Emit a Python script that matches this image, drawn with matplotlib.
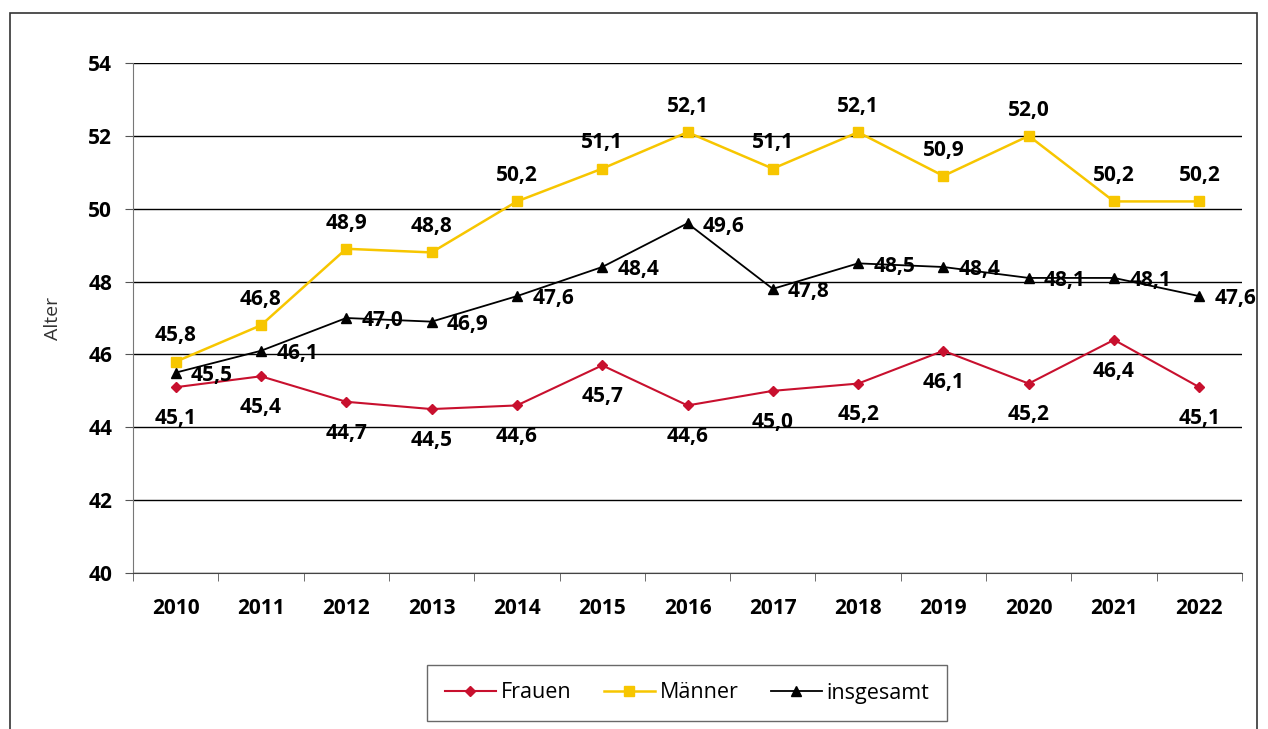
"""Durchschnittsalter nach Geschlecht 2010-2022 als Liniendiagramm."""

import matplotlib
matplotlib.use("Agg")
import matplotlib.pyplot as plt
from matplotlib.patches import Rectangle

plt.rcParams["font.family"] = ["Open Sans", "DejaVu Sans"]

years = ["2010", "2011", "2012", "2013", "2014", "2015", "2016",
         "2017", "2018", "2019", "2020", "2021", "2022"]
frauen = [45.1, 45.4, 44.7, 44.5, 44.6, 45.7, 44.6, 45.0, 45.2, 46.1, 45.2, 46.4, 45.1]
maenner = [45.8, 46.8, 48.9, 48.8, 50.2, 51.1, 52.1, 51.1, 52.1, 50.9, 52.0, 50.2, 50.2]
gesamt = [45.5, 46.1, 47.0, 46.9, 47.6, 48.4, 49.6, 47.8, 48.5, 48.4, 48.1, 48.1, 47.6]

RED = "#C8102E"
YELLOW = "#F7C600"
BLACK = "#000000"


def fmt(v):
    return f"{v:.1f}".replace(".", ",")


fig = plt.figure(figsize=(12.68, 7.29), dpi=100)
ax = fig.add_axes([133 / 1268, 156 / 729, 1109 / 1268, 510 / 729])

# outer frame of the original graphic
fig.patches.append(Rectangle((10 / 1268, -0.02), 1247 / 1268, (729 - 13) / 729 + 0.02,
                             transform=fig.transFigure, fill=False,
                             edgecolor="#333333", linewidth=1.2, clip_on=False))

x = list(range(len(years)))
ax.plot(x, frauen, color=RED, marker="D", markersize=5.5, linewidth=1.5, label="Frauen", zorder=3)
ax.plot(x, maenner, color=YELLOW, marker="s", markersize=7.5, linewidth=1.8, label="Männer", zorder=3)
ax.plot(x, gesamt, color=BLACK, marker="^", markersize=7, linewidth=1.3, label="insgesamt", zorder=4)

lab = dict(fontsize=15, fontweight="bold", color="black", zorder=5)
for i, v in enumerate(frauen):
    ax.annotate(fmt(v), (i, v), xytext=(0, -15), textcoords="offset points",
                ha="center", va="top", **lab)
for i, v in enumerate(maenner):
    ax.annotate(fmt(v), (i, v), xytext=(0, 11), textcoords="offset points",
                ha="center", va="bottom", **lab)
for i, v in enumerate(gesamt):
    ax.annotate(fmt(v), (i, v), xytext=(11, -2), textcoords="offset points",
                ha="left", va="center", **lab)

ax.set_xlim(-0.5, len(years) - 0.5)
ax.set_ylim(40, 54)
ax.set_yticks(range(40, 55, 2))
ax.set_xticks(x)
ax.set_xticklabels(years)
ax.set_xticks([i - 0.5 for i in range(len(years) + 1)], minor=True)
ax.tick_params(axis="x", which="major", length=0, pad=18, labelsize=15)
ax.tick_params(axis="x", which="minor", length=6, direction="out", color="#555555")
ax.tick_params(axis="y", length=6, direction="out", color="#555555", pad=9, labelsize=15)
for t in ax.get_xticklabels() + ax.get_yticklabels():
    t.set_fontweight("bold")

ax.grid(axis="y", color="black", linewidth=1.0)
ax.set_axisbelow(True)
for side in ("top", "right"):
    ax.spines[side].set_visible(False)
ax.spines["left"].set_color("#777777")
ax.spines["bottom"].set_color("#444444")

ax.set_ylabel("Alter", fontsize=14, color="#333333", labelpad=19)

leg = fig.legend(loc="center", bbox_to_anchor=(687 / 1268, (729 - 693) / 729), ncol=3,
                 fontsize=15.5, frameon=True, fancybox=False, edgecolor="#444444",
                 handlelength=2.4, columnspacing=1.5, handletextpad=0.2,
                 borderpad=0.8)
leg.get_frame().set_linewidth(1.0)

fig.savefig("out.png", dpi=100)
plt.close(fig)
